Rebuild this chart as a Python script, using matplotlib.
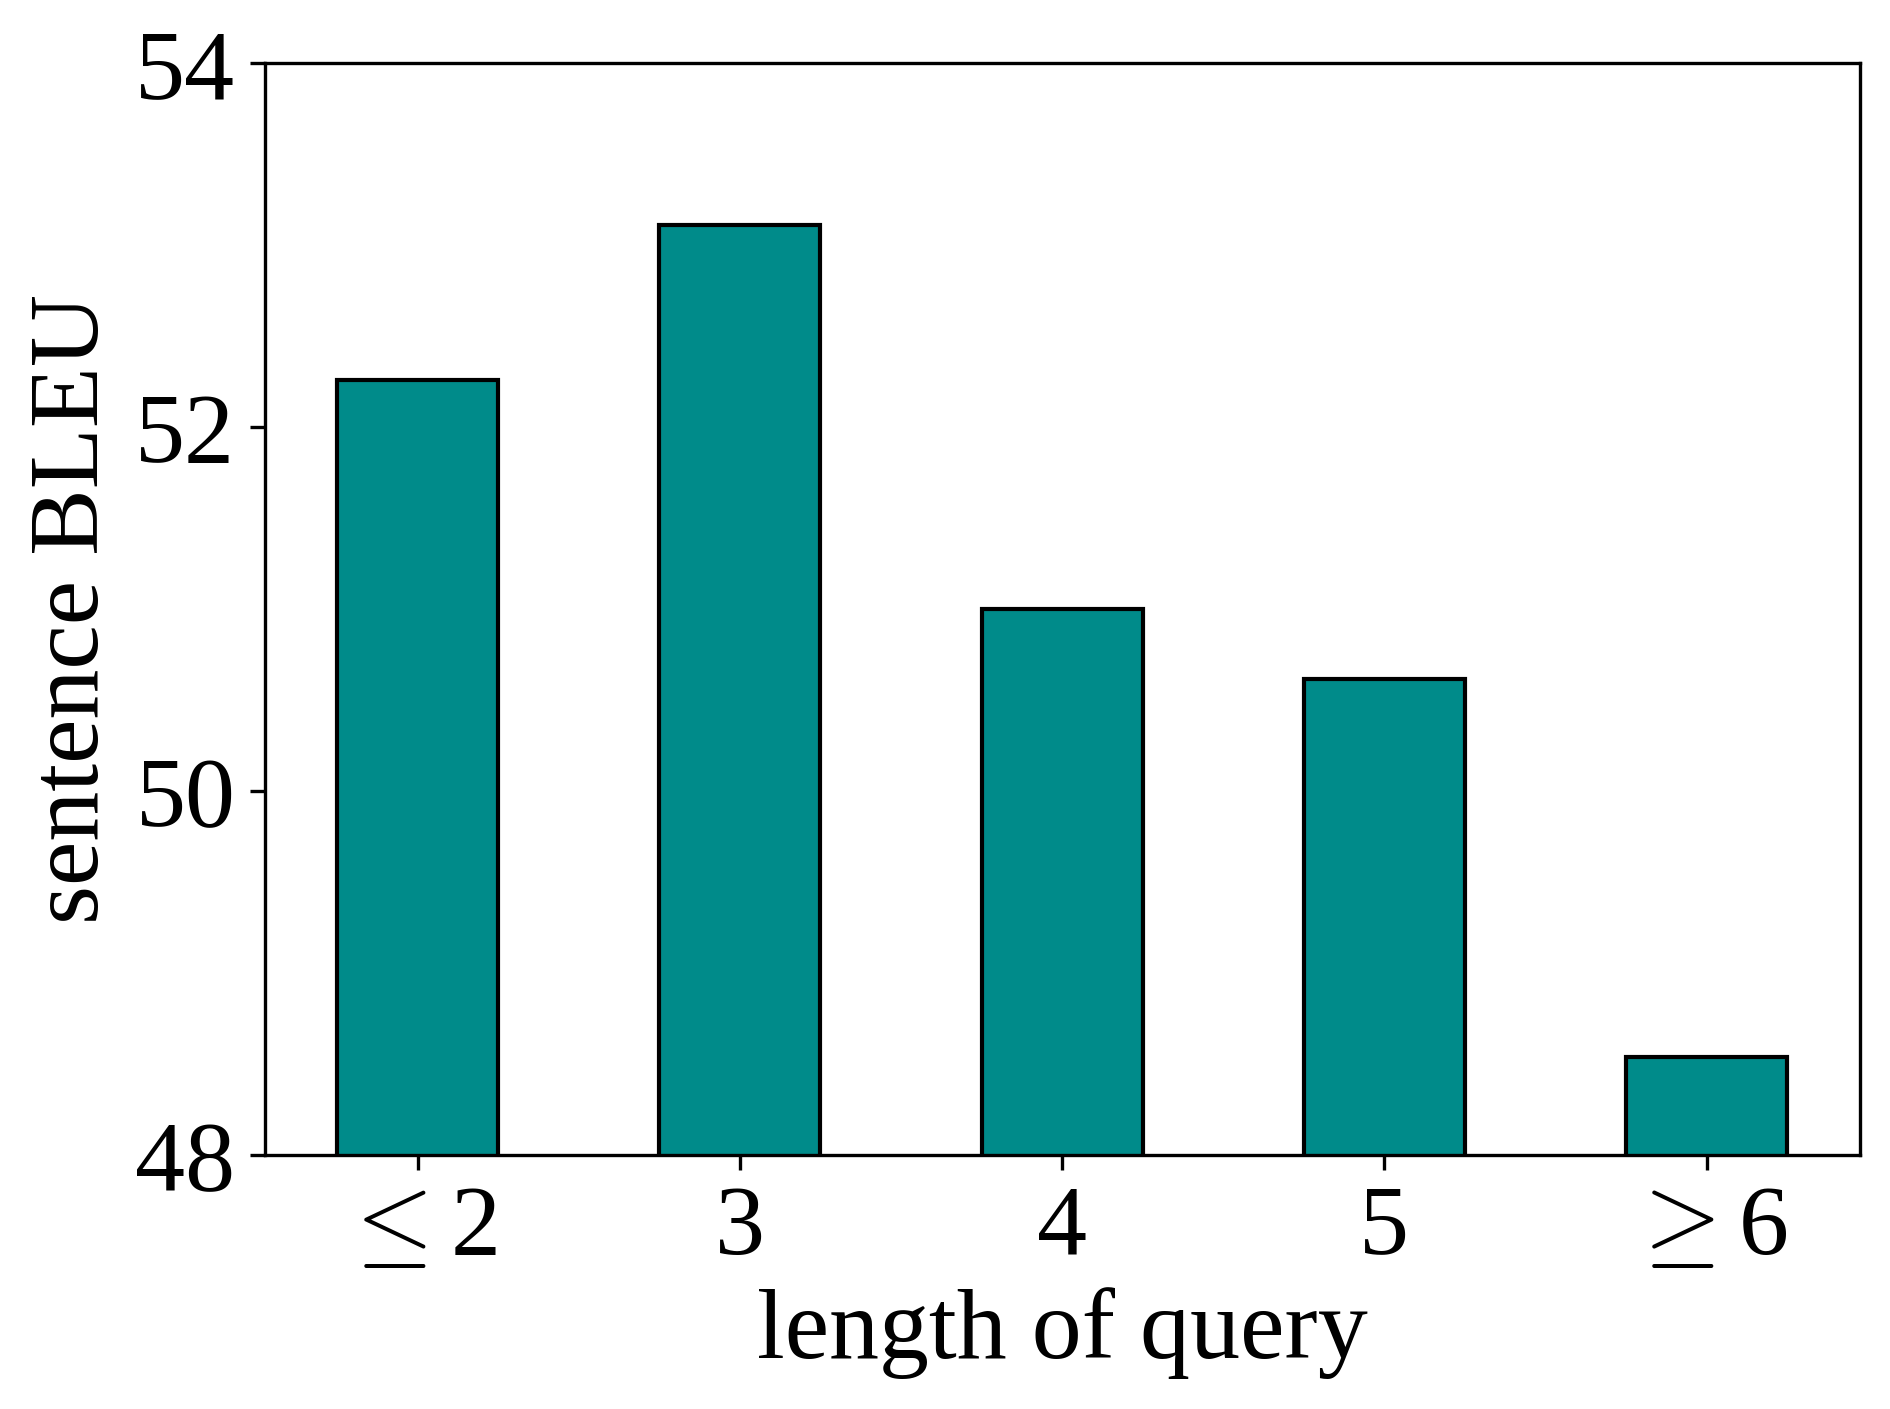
import matplotlib
matplotlib.use('Agg')
import matplotlib.pyplot as plt

# data
lengths = [r'$\leq$2', '3', '4', '5', r'$\geq$6']
bleu = [52.26, 53.11, 51.0, 50.62, 48.54]

plt.rcParams['font.family'] = ['Liberation Serif', 'DejaVu Serif']
plt.rcParams['mathtext.fontset'] = 'cm'

fig = plt.figure(figsize=(6.3, 4.6967), dpi=300)
ax = fig.add_axes([0.140, 0.180, 0.844, 0.775])

ax.bar(range(len(bleu)), bleu, width=0.5, color='#008b8a',
       edgecolor='black', linewidth=1.0)

ax.set_ylim(48, 54)
ax.set_yticks([48, 50, 52, 54])
ax.set_xticks(range(len(lengths)))
ax.set_xticklabels(lengths)
ax.tick_params(labelsize=24)
ax.set_xlabel('length of query', fontsize=24, labelpad=3)
ax.set_ylabel('sentence BLEU', fontsize=24, labelpad=4)

fig.savefig('out.png', dpi=300)
